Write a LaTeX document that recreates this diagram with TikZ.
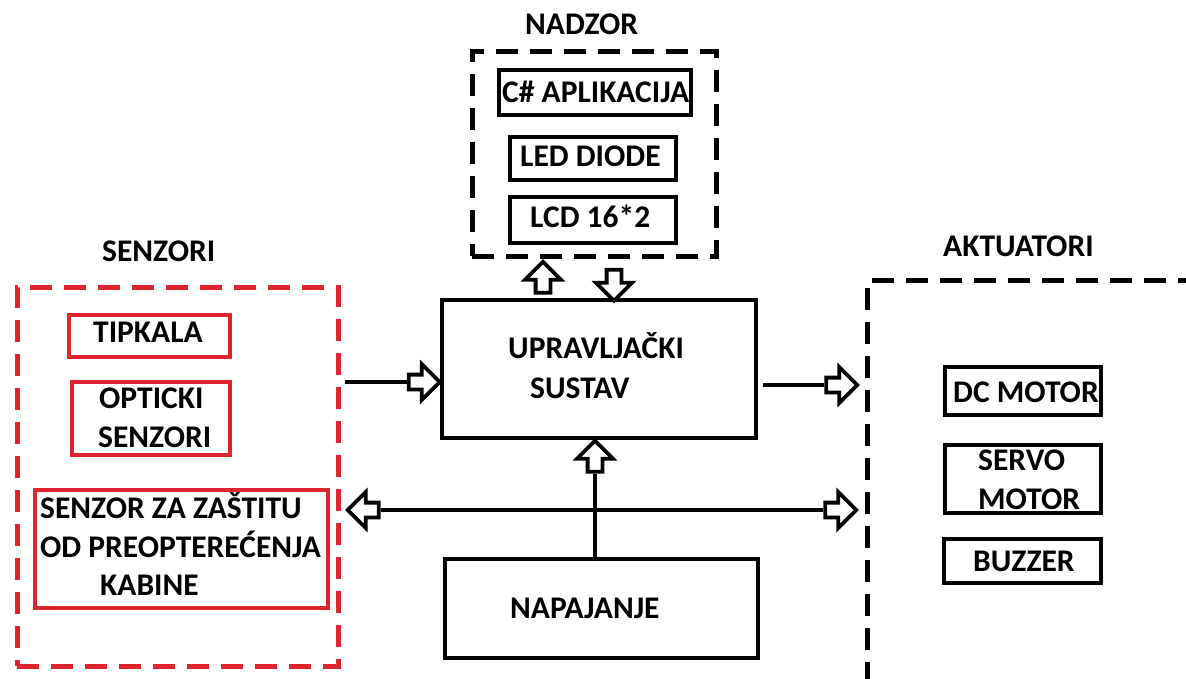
\documentclass[tikz,border=0pt]{standalone}
\usepackage{fontspec}
\setmainfont{Carlito}
\usetikzlibrary{shapes.arrows}
\definecolor{sred}{RGB}{222,36,46}
\tikzset{
  box/.style={draw, line width=4pt, inner sep=0pt},
  redbox/.style={box, draw=sred},
  grp/.style={draw, line width=5pt, dash pattern=on 22pt off 12pt, inner sep=0pt},
  txt/.style={anchor=base west, inner sep=0pt, font=\fontsize{31.5}{36}\selectfont\bfseries},
  conn/.style={line width=4pt},
  blk/.style={single arrow, draw, fill=white, line width=3.8pt, inner sep=5.5pt,
    single arrow head extend=10.5pt, single arrow tip angle=90, minimum height=31pt}
}
\begin{document}
\begin{tikzpicture}[x=1pt, y=-1pt]
\useasboundingbox (0,0) rectangle (1186,679);
\clip (0,0) rectangle (1186,679);
\fill[white] (0,0) rectangle (1186,679);

% NADZOR group
\node[grp, minimum width=244pt, minimum height=204pt] (nadzor) at (594,154) {};
\node[txt] (nadzorT) at (525,34.5) {NADZOR};
\node[box, minimum width=192pt, minimum height=45pt] (app) at (595,92.5) {};
\node[txt] (appT) at (502,103) {C\# APLIKACIJA};
\node[box, minimum width=166pt, minimum height=43pt] (led) at (593,158.5) {};
\node[txt] (ledT) at (520,167) {LED DIODE};
\node[box, minimum width=166pt, minimum height=46pt] (lcd) at (593,220) {};
\node[txt] (lcdT) at (530,228) {LCD 16*2};

% Main control
\node[box, minimum width=314pt, minimum height=138pt] (main) at (599,369) {};
\node[txt] (mainT1) at (508,358) {UPRAVLJAČKI};
\node[txt] (mainT2) at (530,398) {SUSTAV};

% Power
\node[box, minimum width=313pt, minimum height=99pt] (nap) at (601.5,608.5) {};
\node[txt] (napT) at (510,618) {NAPAJANJE};

% SENZORI group
\node[grp, draw=sred, minimum width=321pt, minimum height=379pt] (senz) at (177.5,476.5) {};
\node[txt] (senzT) at (102,261.5) {SENZORI};
\node[redbox, minimum width=161pt, minimum height=42pt] (tip) at (149.5,336) {};
\node[txt] (tipT) at (93,342) {TIPKALA};
\node[redbox, minimum width=158pt, minimum height=73pt] (opt) at (151,418.5) {};
\node[txt] (optT1) at (99,408) {OPTICKI};
\node[txt] (optT2) at (98,447) {SENZORI};
\node[redbox, minimum width=293pt, minimum height=118pt] (zas) at (181.5,549) {};
\node[txt] (zasT1) at (40,518) {SENZOR ZA ZAŠTITU};
\node[txt] (zasT2) at (40,557) {OD PREOPTEREĆENJA};
\node[txt] (zasT3) at (100,595) {KABINE};

% AKTUATORI group
\coordinate (aktTR) at (1200,280.5);
\coordinate (aktTL) at (867.5,280.5);
\coordinate (aktBL) at (867.5,700);
\draw[grp] (aktTR) -- (aktTL) -- (aktBL);
\node[txt] (aktT) at (943,257) {AKTUATORI};
\node[box, minimum width=156pt, minimum height=48pt] (dc) at (1023,391) {};
\node[txt] (dcT) at (953,402) {DC MOTOR};
\node[box, minimum width=156pt, minimum height=68pt] (servo) at (1023,479) {};
\node[txt] (servoT1) at (978,470) {SERVO};
\node[txt] (servoT2) at (978,509) {MOTOR};
\node[box, minimum width=157pt, minimum height=44pt] (buzz) at (1022.5,561) {};
\node[txt] (buzzT) at (973,571) {BUZZER};

% block arrows
\node[blk] (aL) at (420.5,382) {};
\node[blk] (aR) at (838,385) {};
\node[blk, shape border rotate=180] (aBL) at (367,510) {};
\node[blk] (aBR) at (837,510) {};
\node[blk, shape border rotate=90] (aP) at (595,460) {};
\node[blk, shape border rotate=90] (aN) at (543,281) {};
\node[blk, shape border rotate=270] (aD) at (614,281.5) {};

% connectors
\draw[conn, shorten <=4pt] (senz.east |- aL.tail) -- (aL.tail);
\draw[conn, shorten <=5pt] (main.east |- aR.tail) -- (aR.tail);
\draw[conn] (aBL.tail) -- (aBR.tail);
\draw[conn] (nap.north -| aP.tail) -- (aP.tail);
\end{tikzpicture}
\end{document}
